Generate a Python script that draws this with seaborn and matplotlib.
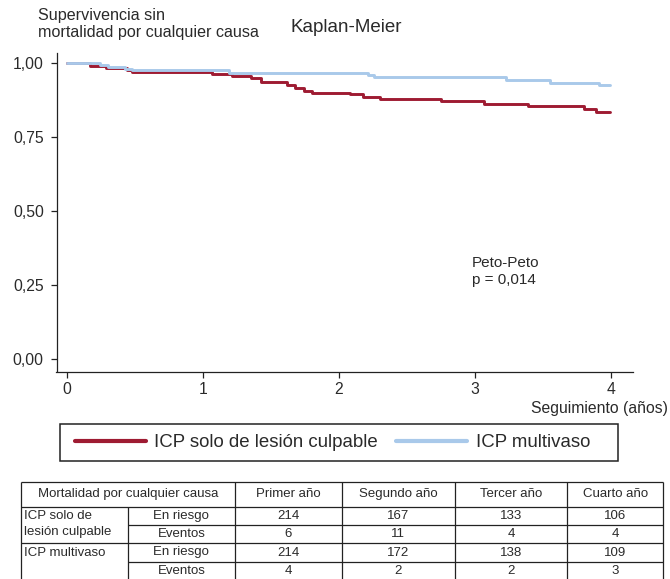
import pandas as pd
import matplotlib.pyplot as plt
import seaborn as sns
from matplotlib.patches import Rectangle
from matplotlib.lines import Line2D

# Curves (time in years, survival)
group_names = ["ICP solo de lesión culpable", "ICP multivaso"]
red_time = [0, 0.17, 0.29, 0.44, 0.48, 1.07, 1.21, 1.35, 1.43, 1.62, 1.68,
            1.74, 1.80, 2.08, 2.18, 2.30, 2.75, 3.07, 3.39, 3.80, 3.89, 3.99]
red_surv = [1.000, 0.991, 0.984, 0.976, 0.969, 0.963, 0.958, 0.949, 0.938,
            0.927, 0.917, 0.908, 0.901, 0.895, 0.886, 0.878, 0.872, 0.864,
            0.855, 0.844, 0.835, 0.835]
blue_time = [0, 0.24, 0.30, 0.43, 0.48, 1.19, 2.21, 2.26, 3.23, 3.55, 3.91, 3.99]
blue_surv = [1.000, 0.996, 0.988, 0.982, 0.976, 0.967, 0.960, 0.954, 0.943,
             0.935, 0.925, 0.925]

x_ticks = [0, 1, 2, 3, 4]
y_ticks = [0, 0.25, 0.5, 0.75, 1.0]
y_ticklabels = ["0,00", "0,25", "0,50", "0,75", "1,00"]

# Risk table
table_header = ["Mortalidad por cualquier causa", "Primer año", "Segundo año",
                "Tercer año", "Cuarto año"]
table_groups = ["ICP solo de\nlesión culpable", "ICP multivaso"]
table_rows = ["En riesgo", "Eventos"]
red_at_risk = [214, 167, 133, 106]
red_events = [6, 11, 4, 4]
blue_at_risk = [214, 172, 138, 109]
blue_events = [4, 2, 2, 3]

colors = {group_names[0]: "#9e1b32", group_names[1]: "#a9c9ea"}

df = pd.concat([
    pd.DataFrame({"Tiempo": red_time, "Supervivencia": red_surv, "Grupo": group_names[0]}),
    pd.DataFrame({"Tiempo": blue_time, "Supervivencia": blue_surv, "Grupo": group_names[1]}),
])

sns.set_style("ticks")
plt.rcParams["font.family"] = ["Liberation Sans", "DejaVu Sans"]

txt = "#2a2a2a"
W, H = 670, 579
fig = plt.figure(figsize=(W / 100, H / 100), dpi=100)
ax = fig.add_axes([56.5 / W, 1 - 371.5 / H, (633 - 56.5) / W, (371.5 - 53.3) / H])

sns.lineplot(data=df, x="Tiempo", y="Supervivencia", hue="Grupo",
             hue_order=group_names, palette=colors, estimator=None,
             drawstyle="steps-post", linewidth=2.1, legend=False, ax=ax)

ax.set_xlim(-0.077, 4.162)
ax.set_ylim(-0.0433, 1.034)
ax.set_xticks(x_ticks)
ax.set_xticklabels([str(t) for t in x_ticks])
ax.set_yticks(y_ticks)
ax.set_yticklabels(y_ticklabels)
ax.set_xlabel("")
ax.set_ylabel("")
for s in ["top", "right"]:
    ax.spines[s].set_visible(False)
for s in ["left", "bottom"]:
    ax.spines[s].set_linewidth(0.9)
    ax.spines[s].set_color("#222222")
ax.tick_params(axis="both", length=4.3, width=0.9, colors="#222222",
               labelsize=11.3, labelcolor=txt)
ax.tick_params(axis="y", pad=4.8)
ax.tick_params(axis="x", pad=3.2)

ax.text(2.975, 0.294, "Peto-Peto\np = 0,014", fontsize=11, va="center",
        ha="left", color=txt, linespacing=1.25)

fig.text(38 / W, 1 - 24 / H, "Supervivencia sin\nmortalidad por cualquier causa",
         fontsize=11.6, ha="left", va="center", color=txt)
fig.text(346 / W, 1 - 28 / H, "Kaplan-Meier", fontsize=13.5, ha="center",
         va="center", color=txt)
fig.text(668 / W, 1 - 409 / H, "Seguimiento (años)", fontsize=11.3,
         ha="right", va="center", color=txt)

# Legend with a wide frame
fig.patches.append(Rectangle((60 / W, 1 - 461 / H), (618 - 60) / W, (461 - 424) / H,
                             transform=fig.transFigure, fill=False,
                             edgecolor="#222222", linewidth=1.1))
handles = [Line2D([], [], color=colors[g], linewidth=3) for g in group_names]
leg = fig.legend(handles, group_names, loc="center left",
                 bbox_to_anchor=(75 / W, 1 - 442.5 / H), frameon=False, ncol=2,
                 fontsize=13.4, handlelength=3.8, handletextpad=0.45,
                 columnspacing=1.0, borderpad=0, borderaxespad=0)
for t in leg.get_texts():
    t.set_color(txt)

# Risk table drawn in pixel coordinates
tax = fig.add_axes([0, 0, 1, 1])
tax.set_xlim(0, W)
tax.set_ylim(H, 0)
tax.axis("off")
cols = [20.7, 127.7, 235, 341.7, 455, 567.3, 663.3]
rows = [481.7, 506.7, 525, 543.3, 561.7, 580]
lw = 0.9
lc = "#222222"
tax.hlines([rows[0], rows[1], rows[3]], cols[0], cols[-1], color=lc, lw=lw)
tax.hlines([rows[2], rows[4]], cols[1], cols[-1], color=lc, lw=lw)
tax.vlines([cols[0], cols[-1]], rows[0], rows[-1], color=lc, lw=lw)
tax.vlines(cols[2:-1], rows[0], rows[-1], color=lc, lw=lw)
tax.vlines(cols[1], rows[1], rows[-1], color=lc, lw=lw)

fs = 9.5
tax.text((cols[0] + cols[2]) / 2, (rows[0] + rows[1]) / 2, table_header[0],
         ha="center", va="center", fontsize=fs, color=txt)
for i, h in enumerate(table_header[1:]):
    tax.text((cols[i + 2] + cols[i + 3]) / 2, (rows[0] + rows[1]) / 2, h,
             ha="center", va="center", fontsize=fs, color=txt)

tax.text(24, (rows[1] + rows[3]) / 2 - 1, table_groups[0], ha="left", va="center",
         fontsize=fs, color=txt, linespacing=1.55)
tax.text(24, (rows[3] + rows[4]) / 2, table_groups[1], ha="left", va="center",
         fontsize=fs, color=txt)

values = [red_at_risk, red_events, blue_at_risk, blue_events]
for r, vals in enumerate(values):
    yc = (rows[r + 1] + rows[r + 2]) / 2
    tax.text((cols[1] + cols[2]) / 2, yc, table_rows[r % 2], ha="center",
             va="center", fontsize=fs, color=txt)
    for c, v in enumerate(vals):
        tax.text((cols[c + 2] + cols[c + 3]) / 2, yc, str(v), ha="center",
                 va="center", fontsize=fs, color=txt)

fig.savefig("out.png", dpi=100)
